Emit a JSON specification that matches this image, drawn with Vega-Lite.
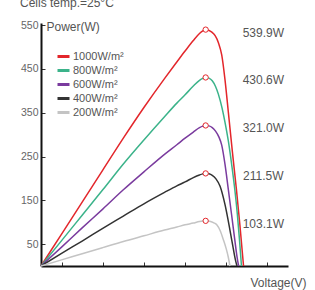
{
  "$schema": "https://vega.github.io/schema/vega-lite/v6.json",
  "autosize": {"type": "none"},
  "width": 247,
  "height": 243,
  "padding": {"left": 41, "top": 23, "right": 27, "bottom": 24},
  "title": {"text": "Cells temp.=25°C", "anchor": "start", "frame": "group", "dx": -21, "offset": 1, "baseline": "alphabetic", "fontSize": 12, "fontWeight": "normal", "color": "#555", "font": "Liberation Sans"},
  "datasets": {
    "curves": [
      {"irradiance": "1000W/m²", "voltage": 0, "power": 0},
      {"irradiance": "1000W/m²", "voltage": 5, "power": 73},
      {"irradiance": "1000W/m²", "voltage": 10, "power": 146},
      {"irradiance": "1000W/m²", "voltage": 15, "power": 219},
      {"irradiance": "1000W/m²", "voltage": 20, "power": 292},
      {"irradiance": "1000W/m²", "voltage": 25, "power": 362},
      {"irradiance": "1000W/m²", "voltage": 30, "power": 428},
      {"irradiance": "1000W/m²", "voltage": 33, "power": 466},
      {"irradiance": "1000W/m²", "voltage": 35, "power": 491},
      {"irradiance": "1000W/m²", "voltage": 37, "power": 515},
      {"irradiance": "1000W/m²", "voltage": 38.5, "power": 531},
      {"irradiance": "1000W/m²", "voltage": 39.3, "power": 537},
      {"irradiance": "1000W/m²", "voltage": 40, "power": 539.9},
      {"irradiance": "1000W/m²", "voltage": 40.7, "power": 538.5},
      {"irradiance": "1000W/m²", "voltage": 41.5, "power": 534},
      {"irradiance": "1000W/m²", "voltage": 42.3, "power": 526},
      {"irradiance": "1000W/m²", "voltage": 43.1, "power": 510},
      {"irradiance": "1000W/m²", "voltage": 43.9, "power": 482},
      {"irradiance": "1000W/m²", "voltage": 44.7, "power": 425},
      {"irradiance": "1000W/m²", "voltage": 45.5, "power": 352},
      {"irradiance": "1000W/m²", "voltage": 46.5, "power": 260},
      {"irradiance": "1000W/m²", "voltage": 47.5, "power": 172},
      {"irradiance": "1000W/m²", "voltage": 48.3, "power": 95},
      {"irradiance": "1000W/m²", "voltage": 49.2, "power": 0},
      {"irradiance": "800W/m²", "voltage": 0, "power": 0},
      {"irradiance": "800W/m²", "voltage": 5, "power": 58},
      {"irradiance": "800W/m²", "voltage": 10, "power": 116},
      {"irradiance": "800W/m²", "voltage": 15, "power": 174},
      {"irradiance": "800W/m²", "voltage": 20, "power": 233},
      {"irradiance": "800W/m²", "voltage": 25, "power": 288},
      {"irradiance": "800W/m²", "voltage": 30, "power": 341},
      {"irradiance": "800W/m²", "voltage": 33, "power": 372},
      {"irradiance": "800W/m²", "voltage": 35, "power": 391},
      {"irradiance": "800W/m²", "voltage": 37, "power": 411},
      {"irradiance": "800W/m²", "voltage": 38.5, "power": 424},
      {"irradiance": "800W/m²", "voltage": 39.3, "power": 428.5},
      {"irradiance": "800W/m²", "voltage": 40, "power": 430.6},
      {"irradiance": "800W/m²", "voltage": 40.8, "power": 429},
      {"irradiance": "800W/m²", "voltage": 41.6, "power": 423},
      {"irradiance": "800W/m²", "voltage": 42.4, "power": 410},
      {"irradiance": "800W/m²", "voltage": 43.1, "power": 392},
      {"irradiance": "800W/m²", "voltage": 44, "power": 360},
      {"irradiance": "800W/m²", "voltage": 44.7, "power": 328},
      {"irradiance": "800W/m²", "voltage": 45.7, "power": 274},
      {"irradiance": "800W/m²", "voltage": 46.4, "power": 226},
      {"irradiance": "800W/m²", "voltage": 47.1, "power": 173},
      {"irradiance": "800W/m²", "voltage": 47.7, "power": 118},
      {"irradiance": "800W/m²", "voltage": 48.2, "power": 62},
      {"irradiance": "800W/m²", "voltage": 48.7, "power": 0},
      {"irradiance": "600W/m²", "voltage": 0, "power": 0},
      {"irradiance": "600W/m²", "voltage": 5, "power": 43},
      {"irradiance": "600W/m²", "voltage": 10, "power": 87},
      {"irradiance": "600W/m²", "voltage": 15, "power": 130},
      {"irradiance": "600W/m²", "voltage": 20, "power": 174},
      {"irradiance": "600W/m²", "voltage": 25, "power": 215},
      {"irradiance": "600W/m²", "voltage": 30, "power": 255},
      {"irradiance": "600W/m²", "voltage": 33, "power": 277},
      {"irradiance": "600W/m²", "voltage": 35, "power": 292},
      {"irradiance": "600W/m²", "voltage": 37, "power": 306},
      {"irradiance": "600W/m²", "voltage": 38.5, "power": 316},
      {"irradiance": "600W/m²", "voltage": 39.3, "power": 319.4},
      {"irradiance": "600W/m²", "voltage": 40, "power": 321.0},
      {"irradiance": "600W/m²", "voltage": 40.8, "power": 320},
      {"irradiance": "600W/m²", "voltage": 41.6, "power": 316},
      {"irradiance": "600W/m²", "voltage": 42.4, "power": 308},
      {"irradiance": "600W/m²", "voltage": 43.2, "power": 295},
      {"irradiance": "600W/m²", "voltage": 43.9, "power": 276},
      {"irradiance": "600W/m²", "voltage": 44.7, "power": 232},
      {"irradiance": "600W/m²", "voltage": 45.5, "power": 175},
      {"irradiance": "600W/m²", "voltage": 46.3, "power": 117},
      {"irradiance": "600W/m²", "voltage": 47.1, "power": 58},
      {"irradiance": "600W/m²", "voltage": 47.6, "power": 22},
      {"irradiance": "600W/m²", "voltage": 48.0, "power": 0},
      {"irradiance": "400W/m²", "voltage": 0, "power": 0},
      {"irradiance": "400W/m²", "voltage": 5, "power": 29},
      {"irradiance": "400W/m²", "voltage": 10, "power": 57},
      {"irradiance": "400W/m²", "voltage": 15, "power": 86},
      {"irradiance": "400W/m²", "voltage": 20, "power": 114},
      {"irradiance": "400W/m²", "voltage": 25, "power": 142},
      {"irradiance": "400W/m²", "voltage": 30, "power": 168},
      {"irradiance": "400W/m²", "voltage": 33, "power": 183},
      {"irradiance": "400W/m²", "voltage": 35, "power": 192},
      {"irradiance": "400W/m²", "voltage": 37, "power": 202},
      {"irradiance": "400W/m²", "voltage": 38.5, "power": 208},
      {"irradiance": "400W/m²", "voltage": 39.3, "power": 210.4},
      {"irradiance": "400W/m²", "voltage": 40, "power": 211.5},
      {"irradiance": "400W/m²", "voltage": 40.8, "power": 210.5},
      {"irradiance": "400W/m²", "voltage": 41.6, "power": 207},
      {"irradiance": "400W/m²", "voltage": 42.5, "power": 199},
      {"irradiance": "400W/m²", "voltage": 43.5, "power": 182},
      {"irradiance": "400W/m²", "voltage": 44.7, "power": 140},
      {"irradiance": "400W/m²", "voltage": 45.9, "power": 82},
      {"irradiance": "400W/m²", "voltage": 46.7, "power": 40},
      {"irradiance": "400W/m²", "voltage": 47.2, "power": 15},
      {"irradiance": "400W/m²", "voltage": 47.6, "power": 0},
      {"irradiance": "200W/m²", "voltage": 0, "power": 0},
      {"irradiance": "200W/m²", "voltage": 5, "power": 14},
      {"irradiance": "200W/m²", "voltage": 10, "power": 28},
      {"irradiance": "200W/m²", "voltage": 15, "power": 42},
      {"irradiance": "200W/m²", "voltage": 20, "power": 56},
      {"irradiance": "200W/m²", "voltage": 25, "power": 69},
      {"irradiance": "200W/m²", "voltage": 30, "power": 82},
      {"irradiance": "200W/m²", "voltage": 33, "power": 89},
      {"irradiance": "200W/m²", "voltage": 35, "power": 94},
      {"irradiance": "200W/m²", "voltage": 37, "power": 98},
      {"irradiance": "200W/m²", "voltage": 38.5, "power": 101.5},
      {"irradiance": "200W/m²", "voltage": 39.3, "power": 102.6},
      {"irradiance": "200W/m²", "voltage": 40, "power": 103.1},
      {"irradiance": "200W/m²", "voltage": 41, "power": 102},
      {"irradiance": "200W/m²", "voltage": 42, "power": 98.5},
      {"irradiance": "200W/m²", "voltage": 42.7, "power": 94},
      {"irradiance": "200W/m²", "voltage": 43.5, "power": 81},
      {"irradiance": "200W/m²", "voltage": 44.3, "power": 60},
      {"irradiance": "200W/m²", "voltage": 45, "power": 39},
      {"irradiance": "200W/m²", "voltage": 45.5, "power": 20},
      {"irradiance": "200W/m²", "voltage": 45.9, "power": 0}
    ],
    "peaks": [
      {"irradiance": "1000W/m²", "voltage": 40, "power": 539.9, "label": "539.9W"},
      {"irradiance": "800W/m²", "voltage": 40, "power": 430.6, "label": "430.6W"},
      {"irradiance": "600W/m²", "voltage": 40, "power": 321.0, "label": "321.0W"},
      {"irradiance": "400W/m²", "voltage": 40, "power": 211.5, "label": "211.5W"},
      {"irradiance": "200W/m²", "voltage": 40, "power": 103.1, "label": "103.1W"}
    ]
  },
  "layer": [
    {
      "data": {"name": "curves"},
      "mark": {"type": "line", "interpolate": "monotone", "strokeWidth": 1.5},
      "encoding": {
        "x": {
          "field": "voltage", "type": "quantitative",
          "scale": {"domain": [0, 60], "nice": false},
          "axis": {
            "values": [5, 10, 15, 20, 25, 30, 35, 40, 45, 50, 55, 60],
            "labelExpr": "datum.value % 10 == 0 ? datum.label : ''",
            "title": "Voltage(V)", "titleAnchor": "start", "titleAlign": "left", "titleX": 209, "titleY": 16, "titleBaseline": "middle",
            "tickSize": -4, "labelPadding": 7
          }
        },
        "y": {
          "field": "power", "type": "quantitative",
          "scale": {"domain": [0, 555], "nice": false},
          "axis": {
            "values": [50, 100, 150, 200, 250, 300, 350, 400, 450, 500, 550],
            "title": "Power(W)", "titleAngle": 0, "titleAlign": "left", "titleBaseline": "middle", "titleX": 5, "titleY": 3,
            "tickSize": -4, "labelPadding": 7
          }
        },
        "color": {
          "field": "irradiance", "type": "nominal",
          "scale": {
            "domain": ["1000W/m²", "800W/m²", "600W/m²", "400W/m²", "200W/m²"],
            "range": ["#e3262b", "#3bb38a", "#7a3b9e", "#333333", "#c4c4c4"]
          },
          "legend": {
            "title": null, "orient": "none", "legendX": 15, "legendY": 26,
            "symbolType": "stroke", "symbolSize": 144, "symbolStrokeWidth": 3,
            "labelFontSize": 11, "labelColor": "#555", "labelFont": "Liberation Sans",
            "rowPadding": 0, "labelOffset": 2
          }
        }
      }
    },
    {
      "data": {"name": "peaks"},
      "mark": {"type": "point", "shape": "circle", "size": 28, "filled": false, "fill": "white", "fillOpacity": 1, "stroke": "#e3262b", "strokeWidth": 1, "opacity": 1},
      "encoding": {
        "x": {"field": "voltage", "type": "quantitative"},
        "y": {"field": "power", "type": "quantitative"}
      }
    },
    {
      "data": {"name": "peaks"},
      "mark": {"type": "text", "align": "center", "baseline": "middle", "dy": 3, "fontSize": 12, "color": "#555", "font": "Liberation Sans"},
      "encoding": {
        "x": {"datum": 54},
        "y": {"field": "power", "type": "quantitative"},
        "text": {"field": "label"}
      }
    }
  ],
  "config": {
    "view": {"stroke": null},
    "axis": {
      "grid": false, "domainColor": "#111", "domainWidth": 2, "tickColor": "#333", "tickWidth": 1,
      "labelColor": "#666", "labelFontSize": 10.5, "labelFont": "Liberation Sans",
      "titleColor": "#555", "titleFontSize": 12, "titleFontWeight": "normal", "titleFont": "Liberation Sans"
    }
  }
}
